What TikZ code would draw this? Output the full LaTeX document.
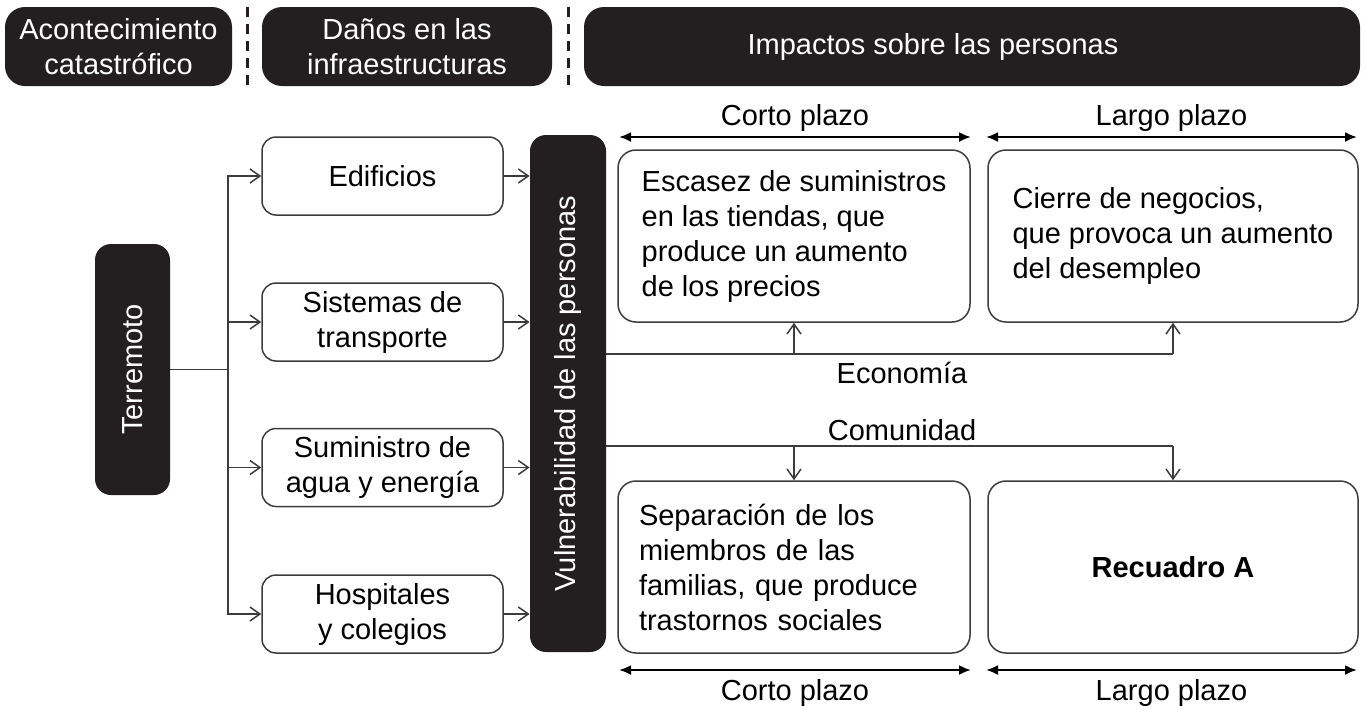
\documentclass[tikz,border=0pt]{standalone}
\usepackage{fontspec}
\usepackage{graphicx}
\setmainfont{Liberation Sans}
\usetikzlibrary{arrows.meta}

\definecolor{boxdark}{RGB}{35,31,32}
\definecolor{linegray}{RGB}{60,60,60}

\begin{document}
\begin{tikzpicture}[x=0.5pt,y=-0.5pt,font=\fontsize{14.5}{17.5}\selectfont]
        \tikzstyle{headnode}=[
            rounded corners=10pt,
            fill=boxdark,
            text=white,
            align=center,
            minimum height=39.5pt,
            inner sep=0pt
        ]
        \tikzstyle{darknode}=[
            rounded corners=8pt,
            fill=boxdark,
            text=white,
            inner sep=0pt
        ]
        \tikzstyle{infranode}=[
            rounded corners=7pt,
            draw=linegray,
            line width=0.75pt,
            align=center,
            minimum width=120.5pt,
            minimum height=39pt,
            inner sep=0pt
        ]
        \tikzstyle{impactnode}=[
            rounded corners=9pt,
            draw=linegray,
            line width=0.75pt,
            align=left,
            minimum height=86pt,
            inner sep=0pt
        ]
        \tikzstyle{plain}=[draw=linegray, line width=0.75pt]
        \tikzstyle{link}=[plain, -{Straight Barb[length=5pt,width=7pt]}]
        \tikzstyle{span}=[black, line width=1.1pt, {Latex[length=6pt,width=5pt]}-{Latex[length=6pt,width=5pt]}]
        \tikzstyle{sepline}=[boxdark, line width=1.5pt, dash pattern=on 5pt off 3.5pt]

        \useasboundingbox (0,0) rectangle (1365,708);

        % headings
        \node[headnode, minimum width=113.5pt] (event) at (118.5,46.5) {Acontecimiento\\catastrófico};
        \node[headnode, minimum width=145pt] (damage) at (407,46.5) {Daños en las\\infraestructuras};
        \node[headnode, minimum width=388pt] (impact) at (972,46.5) {Impactos sobre las personas\hspace*{39pt}};
        \draw[sepline] (247,7) -- (247,86);
        \draw[sepline] (568,7) -- (568,86);

        % event and infrastructures
        \node[darknode, minimum width=37.5pt, minimum height=125.5pt] (quake) at (132.5,369.5) {\rotatebox{90}{Terremoto}};
        \node[infranode] (build) at (382.5,176) {Edificios};
        \node[infranode] (trans) at (382.5,322) {Sistemas de\\transporte};
        \node[infranode] (water) at (382.5,467.5) {Suministro de\\agua y energía};
        \node[infranode] (hosp) at (382.5,614) {Hospitales\\y colegios};
        \node[darknode, minimum width=38pt, minimum height=258.5pt] (vuln) at (568,393.5) {\rotatebox{90}{Vulnerabilidad de las personas}};

        % impacts
        \node[impactnode, minimum width=176pt] (shortEco) at (794,236) {Escasez de suministros\\en las tiendas, que\\produce un aumento\\de los precios};
        \node[impactnode, minimum width=185pt] (longEco) at (1173,236) {Cierre de negocios,\\que provoca un aumento\\del desempleo};
        \node[impactnode, minimum width=176pt, text width=155pt, inner xsep=10.5pt] (shortCom) at (794,567) {Separación de los\\miembros de las\\familias, que produce\\trastornos sociales};
        \node[impactnode, minimum width=185pt] (longCom) at (1173,567) {\textbf{Recuadro A}};

        % connectors
        \coordinate (split) at (228,369.5);
        \draw[plain] (quake.east) -- (split);
        \draw[link] (split) |- (build.west);
        \draw[link] (split) |- (trans.west);
        \draw[link] (split) |- (water.west);
        \draw[link] (split) |- (hosp.west);
        \draw[link] (build.east) -- (build.east -| vuln.west);
        \draw[link] (trans.east) -- (trans.east -| vuln.west);
        \draw[link] (water.east) -- (water.east -| vuln.west);
        \draw[link] (hosp.east) -- (hosp.east -| vuln.west);

        \coordinate (ecoA) at (794,354);
        \coordinate (ecoB) at (1173,354);
        \draw[plain] (vuln.east |- ecoB) -- (ecoB);
        \draw[link] (ecoA) -- (shortEco.south);
        \draw[link] (ecoB) -- (longEco.south);
        \node (ecoLabel) at (902,373) {Economía};

        \coordinate (comA) at (794,446);
        \coordinate (comB) at (1173,446);
        \draw[plain] (vuln.east |- comB) -- (comB);
        \draw[link] (comA) -- (shortCom.north);
        \draw[link] (comB) -- (longCom.north);
        \node (comLabel) at (902,430) {Comunidad};

        % time spans
        \coordinate (topShortL) at (619,137);
        \coordinate (topShortR) at (971,137);
        \coordinate (topLongL) at (986,137);
        \coordinate (topLongR) at (1357,137);
        \coordinate (botShortL) at (619,670);
        \coordinate (botShortR) at (971,670);
        \coordinate (botLongL) at (986,670);
        \coordinate (botLongR) at (1357,670);
        \draw[span] (topShortL) -- node[above=-1pt]{Corto plazo} (topShortR);
        \draw[span] (topLongL) -- node[above=-1pt]{Largo plazo} (topLongR);
        \draw[span] (botShortL) -- node[below=1pt]{Corto plazo} (botShortR);
        \draw[span] (botLongL) -- node[below=1pt]{Largo plazo} (botLongR);

    \end{tikzpicture}
\end{document}
